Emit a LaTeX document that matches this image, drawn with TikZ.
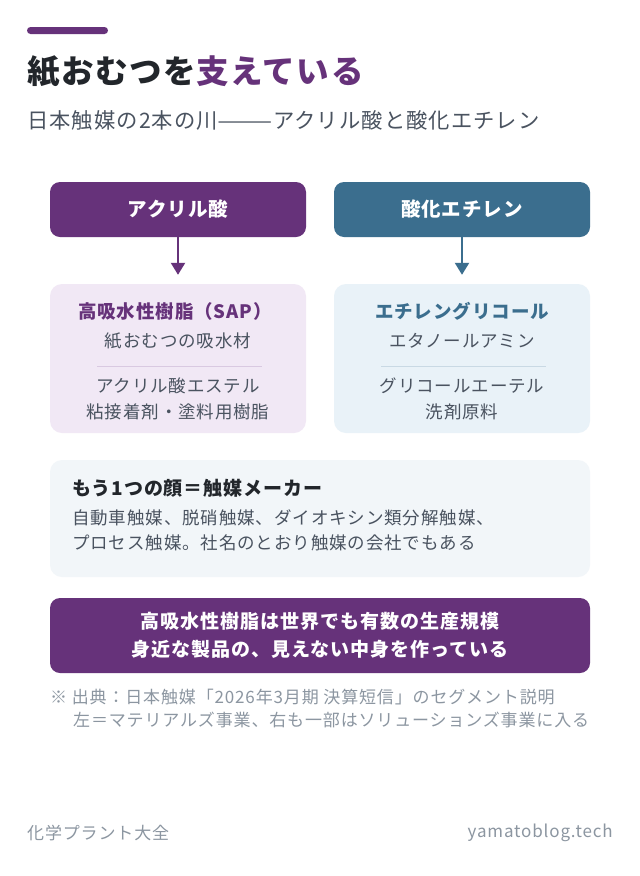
\documentclass[tikz,border=0pt]{standalone}
\usepackage{fontspec}
\setmainfont{Noto Sans CJK JP}[LetterSpace=5]
\usepackage{graphicx}
\usetikzlibrary{arrows.meta,calc}
\definecolor{purp}{HTML}{66327A}
\definecolor{steel}{HTML}{3B6E8E}
\definecolor{dark}{HTML}{22262B}
\definecolor{body}{HTML}{4A5360}
\definecolor{muted}{HTML}{8C96A1}
\definecolor{lav}{HTML}{F1E8F5}
\definecolor{lblue}{HTML}{E9F2F8}
\definecolor{pale}{HTML}{F2F6F9}
\definecolor{lavline}{HTML}{D9C9E1}
\definecolor{blueline}{HTML}{C9D9E4}
\begin{document}
\begin{tikzpicture}[x=1pt,y=-1pt,
  hdr/.style={minimum width=256pt,minimum height=55pt,inner sep=0pt,rounded corners=10pt,text=white,font=\fontsize{19.5}{23}\selectfont\bfseries},
  panel/.style={minimum width=256pt,minimum height=149pt,inner sep=0pt,rounded corners=12pt},
  wide/.style={minimum width=540pt,inner sep=0pt,rounded corners=12pt},
  ttl/.style={font=\fontsize{18.5}{22}\selectfont\bfseries},
  txt/.style={font=\fontsize{17.5}{21}\selectfont,text=body},
  note/.style={font=\fontsize{17}{20}\selectfont,text=muted,anchor=west,inner sep=0pt},
  foot/.style={font=\fontsize{17}{20}\selectfont,text=muted,anchor=west,inner sep=0pt},
  msgtxt/.style={text=white,font=\fontsize{19}{23}\selectfont\bfseries},
  flow/.style={line width=2.2pt,-{Triangle[width=14pt,length=12pt]},shorten >=9pt}
]
\fill[white] (0,0) rectangle (640,876);
\useasboundingbox (0,0) rectangle (640,876);
% accent bar
\fill[purp,rounded corners=3.5pt] (27,27) rectangle (108,34);
% title
\node[anchor=west,inner sep=0pt,font=\fontsize{32.5}{40}\selectfont\bfseries] (title) at (27,72)
  {\textcolor{dark}{紙おむつを}\textcolor{purp}{支えている}};
\node[anchor=west,inner sep=0pt,font=\fontsize{21.3}{26}\selectfont,text=body] (sub) at (27,120)
  {日本触媒の2本の川\scalebox{1.55}[1]{——}アクリル酸と酸化エチレン};
% headers
\node[hdr,fill=purp] (acryl) at (178,209.5) {アクリル酸};
\node[hdr,fill=steel] (eo) at (462,209.5) {酸化エチレン};
% panels
\node[panel,fill=lav] (lp) at (178,358.5) {};
\node[panel,fill=lblue] (rp) at (462,358.5) {};
\draw[flow,purp] (acryl.south) -- (lp.north);
\draw[flow,steel] (eo.south) -- (rp.north);
% left panel text
\node[ttl,text=purp] (sap) at (175,311) {高吸水性樹脂（SAP）};
\node[txt] (sap2) at (178,341) {紙おむつの吸水材};
\draw[lavline,line width=1pt] (97,366) -- (262,366);
\node[txt] (ae) at (178,386) {アクリル酸エステル};
\node[txt] (ae2) at (178,412) {粘接着剤・塗料用樹脂};
% right panel text
\node[ttl,text=steel] (eg) at (462,311) {エチレングリコール};
\node[txt] (eg2) at (462,341) {エタノールアミン};
\draw[blueline,line width=1pt] (381,366) -- (546,366);
\node[txt] (ge) at (462,386) {グリコールエーテル};
\node[txt] (ge2) at (462,412) {洗剤原料};
% catalyst box
\node[wide,fill=pale,minimum height=117pt] (cat) at (320,518.5) {};
\node[ttl,text=dark,anchor=west,inner sep=0pt,font=\fontsize{19}{22}\selectfont\bfseries] (catt) at (72,488) {もう1つの顔＝触媒メーカー};
\node[txt,anchor=west,inner sep=0pt] (cat1) at (72,518) {自動車触媒、脱硝触媒、ダイオキシン類分解触媒、};
\node[txt,anchor=west,inner sep=0pt] (cat2) at (72,543) {プロセス触媒。社名のとおり触媒の会社でもある};
% purple box
\node[wide,fill=purp,minimum height=75pt,rounded corners=10pt] (msg) at (320,635.5) {};
\node[msgtxt] (m1) at (320,621) {高吸水性樹脂は世界でも有数の生産規模};
\node[msgtxt] (m2) at (320,649) {身近な製品の、見えない中身を作っている};
% notes
\node[note] (n1) at (50,697) {※ 出典：日本触媒「2026年3月期 決算短信」のセグメント説明};
\node[note] (n2) at (73,720) {左＝マテリアルズ事業、右も一部はソリューションズ事業に入る};
% footer
\node[foot] (f1) at (27,833) {化学プラント大全};
\node[foot,anchor=east] (f2) at (613,833) {yamatoblog.tech};
\end{tikzpicture}
\end{document}
